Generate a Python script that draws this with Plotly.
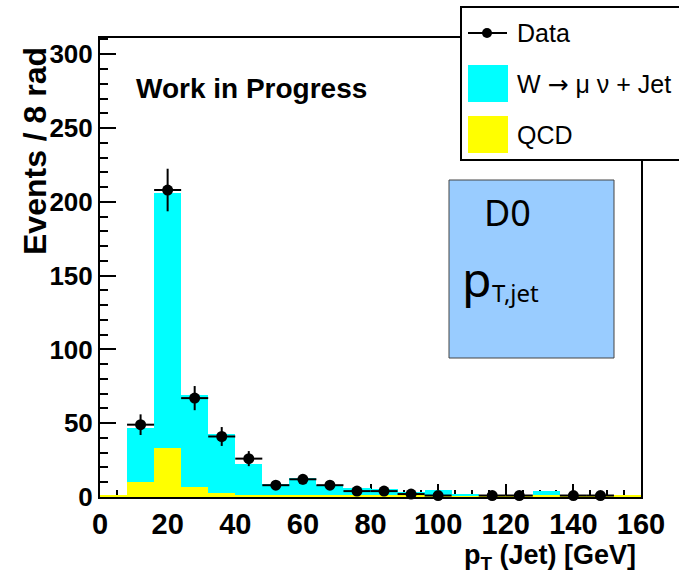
import numpy as np
import plotly.graph_objects as go

# Jet pT histogram, 8 GeV bins from 0 to 160
bin_width = 8
bin_edges = np.arange(0, 161, bin_width)
bin_centers = (bin_edges[:-1] + bin_edges[1:]) / 2

data_counts = [0, 49, 208, 67, 41, 26, 8, 12, 8, 4, 4, 2, 1, 0, 1, 1, 0, 1, 1, 0]
qcd_counts = [1.2, 10.4, 33, 6.5, 2.5, 1.3, 1.2, 1.2, 1.2, 1.2, 1.2, 1.2, 1.2, 1.2, 1.2, 1.2, 1.2, 1.2, 1.2, 1.2]
mc_total = [1.2, 47, 206, 69, 42.6, 22.3, 8.6, 12.6, 8.1, 5.9, 5.2, 3.6, 4.7, 1.6, 1.2, 1.2, 4.0, 1.2, 1.2, 1.2]
wjet_counts = [max(t - q, 0) for t, q in zip(mc_total, qcd_counts)]

x_ticks = list(range(0, 161, 20))
y_ticks = list(range(0, 301, 50))

W, H = 679, 574
L, R, T, B = 100, 38, 38, 77
PW, PH = W - L - R, H - T - B


def px(x):
    return (x - L) / PW


def py(y):
    return (H - B - y) / PH


FONT = "Liberation Sans"

fig = go.Figure()
fig.add_trace(go.Bar(x=bin_centers, y=qcd_counts, width=bin_width,
                     marker=dict(color="#FFFF00", line=dict(width=0)), name="QCD"))
fig.add_trace(go.Bar(x=bin_centers, y=wjet_counts, width=bin_width,
                     marker=dict(color="#00FFFF", line=dict(width=0)), name="W"))

d = np.array(data_counts, dtype=float)
mask = d > 0
fig.add_trace(go.Scatter(
    x=bin_centers[mask], y=d[mask], mode="markers",
    marker=dict(color="black", size=11),
    error_x=dict(type="constant", value=bin_width / 2, width=0, thickness=2, color="black"),
    error_y=dict(type="data", array=np.sqrt(d[mask]), width=0, thickness=2, color="black"),
    name="Data", cliponaxis=False))

fig.update_layout(
    width=W, height=H, margin=dict(l=L, r=R, t=T, b=B),
    paper_bgcolor="white", plot_bgcolor="white",
    barmode="stack", bargap=0, showlegend=False,
    xaxis=dict(range=[0, 160], tickvals=x_ticks, ticks="inside", ticklen=13, tickwidth=1.5,
               tickcolor="black", showline=True, linecolor="black", linewidth=2, mirror=True,
               showgrid=False, zeroline=False, layer="below traces",
               minor=dict(dtick=5, ticks="inside", ticklen=7, tickcolor="black", tickwidth=1.5),
               tickfont=dict(family=FONT, size=29, color="black", weight="bold")),
    yaxis=dict(range=[0, 311], tickvals=y_ticks, ticks="inside", ticklen=16, tickwidth=1.5,
               tickcolor="black", showline=True, linecolor="black", linewidth=2, mirror=True,
               showgrid=False, zeroline=False, layer="below traces",
               minor=dict(dtick=10, ticks="inside", ticklen=8, tickcolor="black", tickwidth=1.5),
               tickfont=dict(family=FONT, size=26, color="black", weight="bold")),
)

shapes = [
    # legend frame
    dict(type="rect", xref="paper", yref="paper", x0=px(461), x1=px(700), y0=py(160), y1=py(7),
         fillcolor="white", line=dict(color="black", width=2), layer="above"),
    dict(type="line", xref="paper", yref="paper", x0=px(468), x1=px(507), y0=py(33), y1=py(33),
         line=dict(color="black", width=2), layer="above"),
    dict(type="circle", xref="paper", yref="paper", x0=px(482), x1=px(492), y0=py(38), y1=py(28),
         fillcolor="black", line=dict(color="black", width=0), layer="above"),
    dict(type="rect", xref="paper", yref="paper", x0=px(468), x1=px(508), y0=py(102), y1=py(65),
         fillcolor="#00FFFF", line=dict(width=0), layer="above"),
    dict(type="rect", xref="paper", yref="paper", x0=px(468), x1=px(508), y0=py(153), y1=py(116),
         fillcolor="#FFFF00", line=dict(width=0), layer="above"),
    # D0 label box
    dict(type="rect", xref="paper", yref="paper", x0=px(449), x1=px(614), y0=py(358), y1=py(180),
         fillcolor="#99CCFF", line=dict(color="#444444", width=1), layer="above"),
]

annotations = [
    dict(text="Work in Progress", x=px(251), y=py(88), xanchor="center", yanchor="middle",
         font=dict(family=FONT, size=28, color="black", weight="bold")),
    dict(text="Events / 8 rad", x=px(35), y=py(151), xanchor="center", yanchor="middle",
         textangle=-90, font=dict(family=FONT, size=32, color="black", weight="bold")),
    dict(text="p<sub>T</sub> (Jet) [GeV]", x=px(638), y=py(557), xanchor="right", yanchor="middle",
         font=dict(family=FONT, size=27, color="black", weight="bold")),
    dict(text="Data", x=px(515), y=py(33), xanchor="left", yanchor="middle",
         font=dict(family=FONT, size=25, color="black")),
    dict(text="W <span style='font-family:DejaVu Sans'>\u2192</span> \u03bc \u03bd + Jet",
         x=px(515), y=py(84), xanchor="left", yanchor="middle",
         font=dict(family=FONT, size=25, color="black")),
    dict(text="QCD", x=px(515), y=py(135), xanchor="left", yanchor="middle",
         font=dict(family=FONT, size=25, color="black")),
    dict(text="D0", x=px(507), y=py(212), xanchor="center", yanchor="middle",
         font=dict(family="Comic Sans MS, Noto Sans", size=36, color="black")),
    dict(text="p", x=px(460), y=py(278), xanchor="left", yanchor="middle",
         font=dict(family="Comic Sans MS, Noto Sans", size=48, color="black")),
    dict(text="T,jet", x=px(490), y=py(292), xanchor="left", yanchor="middle",
         font=dict(family="Comic Sans MS, Noto Sans", size=24, color="black")),
]
for a in annotations:
    a.update(xref="paper", yref="paper", showarrow=False)

fig.update_layout(shapes=shapes, annotations=annotations)
fig.write_html("out.html")
